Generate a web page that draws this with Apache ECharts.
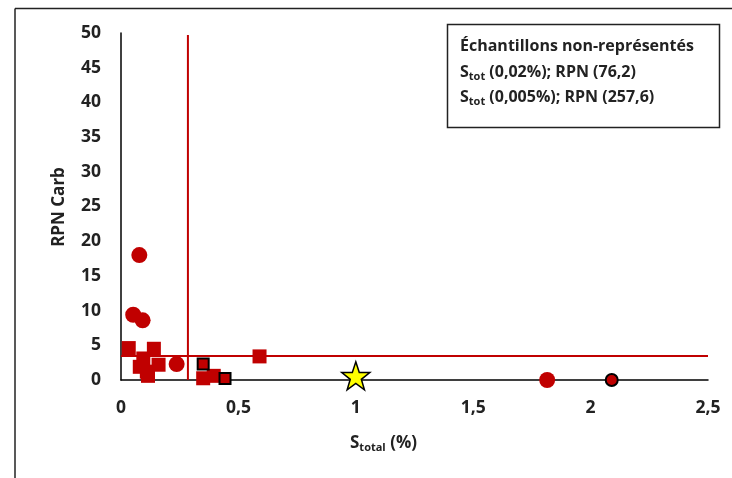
<!DOCTYPE html>
<html><head><meta charset="utf-8">
<script src="https://cdn.jsdelivr.net/npm/echarts@6/dist/echarts.min.js"></script>
<style>html,body{margin:0;padding:0;background:#fff}#c{width:732px;height:478px}</style>
</head><body><div id="c"></div>
<script>
// Data (S total %, RPN Carb)
const redCircles = [[0.078,18.0],[0.052,9.4],[0.092,8.6],[0.237,2.3],[1.815,0]];
const redSquares = [[0.033,4.6],[0.14,4.5],[0.095,3.1],[0.08,1.9],[0.11,1.2],[0.16,2.2],[0.115,0.6],[0.35,0.25],[0.395,0.6],[0.59,3.4]];
const borderedSquares = [[0.35,2.3],[0.443,0.2]];
const borderedCircles = [[2.09,0]];
const starPoints = [[1.0,0.6]];
const sThreshold = 0.285;
const rpnThreshold = 3.45;
const xTicks = ['0','0,5','1','1,5','2','2,5'];
const yTicks = ['0','5','10','15','20','25','30','35','40','45','50'];
const legendLines = ['Échantillons non-représentés','S|tot| (0,02%); RPN (76,2)','S|tot| (0,005%); RPN (257,6)'];

const RED = '#C00000';
const FONT = 'Open Sans';
const star = 'path://M50,0 L61.8,35.1 L97.6,35.1 L68.8,57.3 L79.4,91.9 L50,70.6 L20.6,91.9 L31.2,57.3 L2.4,35.1 L38.2,35.1 Z';

function legendRich(s){
  const p = s.split('|');
  if (p.length === 1) return '{b|' + s + '}';
  return '{b|' + p[0] + '}{s|' + p[1] + '}{b|' + p[2] + '}';
}
const bStyle = {fontFamily: FONT, fontWeight: 'bold', fontSize: 16, fill: '#222', lineHeight: 20};
const sStyle = {fontFamily: FONT, fontWeight: 'bold', fontSize: 11, fill: '#222', padding: [8,0,0,0], lineHeight: 20};

const chart = echarts.init(document.getElementById('c'));
chart.setOption({
  animation: false,
  grid: {left: 121, right: 24, top: 33, bottom: 98},
  xAxis: {
    type: 'value', min: 0, max: 2.5, interval: 0.5,
    splitLine: {show: false},
    axisTick: {show: false},
    axisLine: {lineStyle: {color: '#000', width: 1.5}},
    axisLabel: {margin: 19, color: '#222', fontFamily: FONT, fontWeight: 'bold', fontSize: 17.5,
      formatter: v => xTicks[Math.round(v / 0.5)]}
  },
  yAxis: {
    type: 'value', min: 0, max: 50, interval: 5,
    splitLine: {show: false},
    axisTick: {show: false},
    axisLine: {show: true, lineStyle: {color: '#000', width: 1.5}},
    axisLabel: {margin: 20, color: '#222', fontFamily: FONT, fontWeight: 'bold', fontSize: 17.5,
      formatter: v => yTicks[Math.round(v / 5)]}
  },
  graphic: [
    {type: 'line', shape: {x1: 15, y1: 8.5, x2: 732, y2: 8.5}, style: {stroke: '#222', lineWidth: 1.5}},
    {type: 'line', shape: {x1: 15, y1: 8.5, x2: 15, y2: 478}, style: {stroke: '#222', lineWidth: 1.5}},
    {type: 'rect', shape: {x: 447.5, y: 24.5, width: 272, height: 103}, style: {fill: '#fff', stroke: '#222', lineWidth: 1.5}},
    {type: 'text', left: 460, top: 38, style: {text: legendRich(legendLines[0]), rich: {b: bStyle}}},
    {type: 'text', left: 460, top: 63, style: {text: legendRich(legendLines[1]), rich: {b: bStyle, s: sStyle}}},
    {type: 'text', left: 460, top: 88, style: {text: legendRich(legendLines[2]), rich: {b: bStyle, s: sStyle}}},
    {type: 'text', left: 350, top: 433, style: {
      text: '{b|S}{s|total}{b| (%)}', rich: {
        b: {fontFamily: FONT, fontWeight: 'bold', fontSize: 17, fill: '#222', lineHeight: 22},
        s: {fontFamily: FONT, fontWeight: 'bold', fontSize: 11, fill: '#222', padding: [9,0,0,0], lineHeight: 22}}}},
    {type: 'text', x: 59, y: 207, rotation: Math.PI / 2, style: {
      text: 'RPN Carb', fontFamily: FONT, fontWeight: 'bold', fontSize: 17, fill: '#222',
      align: 'center', verticalAlign: 'middle'}}
  ],
  series: [
    {type: 'line', data: [[sThreshold, 0], [sThreshold, 49.7]], symbol: 'none', z: 1,
      lineStyle: {color: RED, width: 2}},
    {type: 'line', data: [[0, rpnThreshold], [2.5, rpnThreshold]], symbol: 'none', z: 1,
      lineStyle: {color: RED, width: 2}},
    {type: 'scatter', data: redCircles, symbol: 'circle', symbolSize: 16, z: 3,
      itemStyle: {color: RED, opacity: 1}},
    {type: 'scatter', data: redSquares, symbol: 'rect', symbolSize: 14, z: 3,
      itemStyle: {color: RED, opacity: 1}},
    {type: 'scatter', data: borderedSquares, symbol: 'rect', symbolSize: 11, z: 4,
      itemStyle: {color: RED, borderColor: '#000', borderWidth: 2, opacity: 1}},
    {type: 'scatter', data: borderedCircles, symbol: 'circle', symbolSize: 12, z: 4,
      itemStyle: {color: RED, borderColor: '#000', borderWidth: 2, opacity: 1}},
    {type: 'scatter', data: starPoints, symbol: star, symbolSize: 28, z: 4,
      itemStyle: {color: '#FFFF00', borderColor: '#000', borderWidth: 1.5, opacity: 1}}
  ]
});
</script></body></html>
